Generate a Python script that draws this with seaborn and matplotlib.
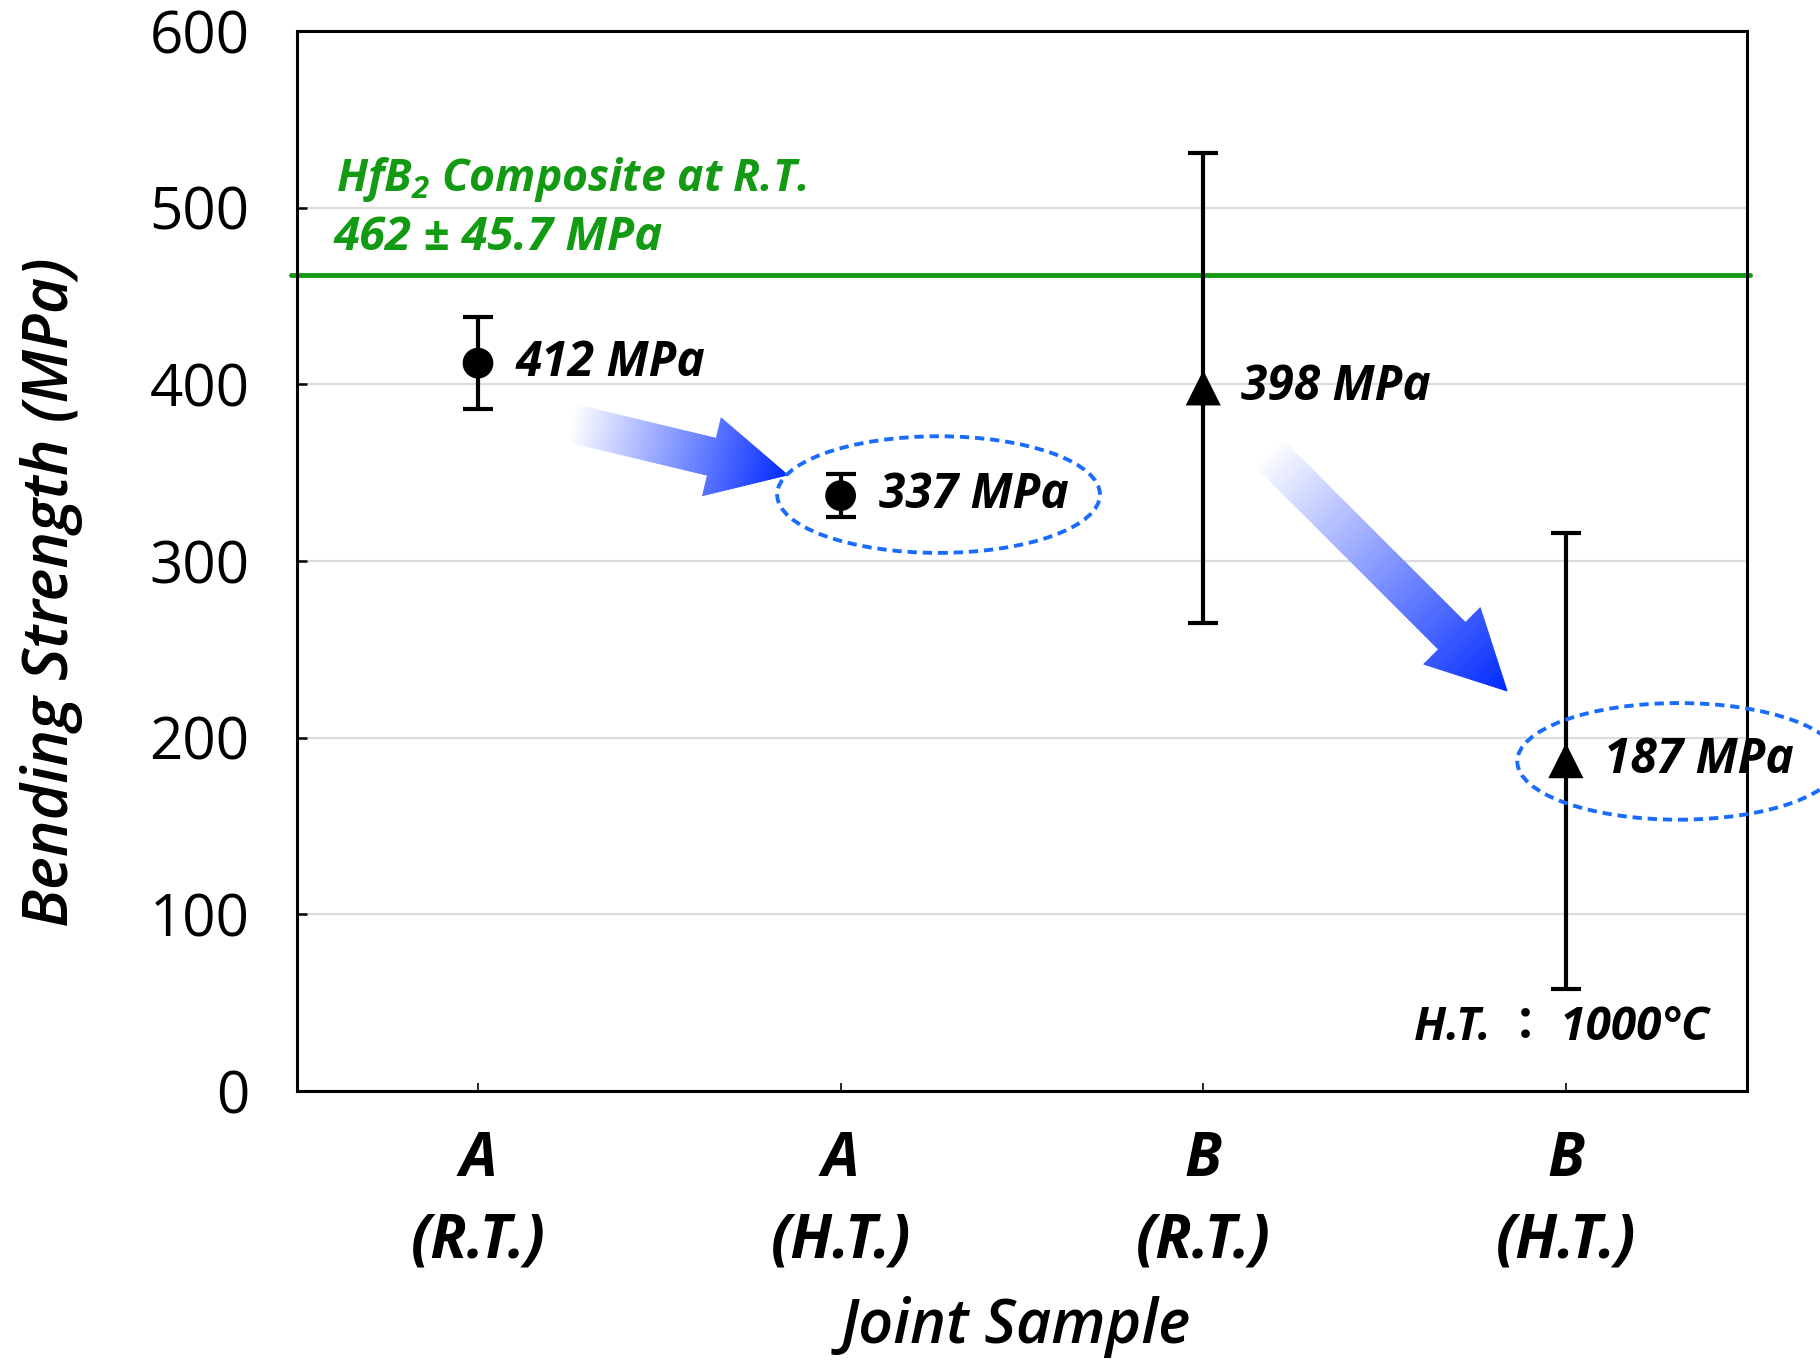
import numpy as np
import pandas as pd
import matplotlib
matplotlib.use("Agg")
import matplotlib.pyplot as plt
import seaborn as sns
from matplotlib.patches import Ellipse, Polygon
from matplotlib.transforms import IdentityTransform

# data
samples = ["A\n(R.T.)", "A\n(H.T.)", "B\n(R.T.)", "B\n(H.T.)"]
joint = ["A", "A", "B", "B"]
strength = [412, 337, 398, 187]
error = [26, 12, 133, 129]
composite_strength = 462
composite_label = r"HfB$_{2}$ Composite at R.T."
composite_value = "462 ± 45.7 MPa"
ht_note = "H.T. ： 1000°C"

GREEN = "#139a13"
BLUE = "#1a6cff"

sns.set_style("ticks")
plt.rcParams["font.family"] = ["Open Sans", "Noto Sans CJK JP", "DejaVu Sans"]
plt.rcParams["mathtext.fontset"] = "custom"
plt.rcParams["mathtext.rm"] = "Open Sans:italic:bold"
plt.rcParams["axes.linewidth"] = 2.2
for k in ["text.color", "axes.labelcolor", "xtick.color", "ytick.color", "axes.edgecolor"]:
    plt.rcParams[k] = "black"


def gradient_arrow(ax, tail, tip, shaft_hw=19, head_hw=40, head_len=78, n=90):
    # arrow drawn in pixels, faded from white at the tail to blue at the tip
    p0 = ax.transData.transform(tail)
    p1 = ax.transData.transform(tip)
    d = p1 - p0
    L = np.hypot(*d)
    u = d / L
    nv = np.array([-u[1], u[0]])
    t_head = (L - head_len) / L
    white = np.array([1.0, 1.0, 1.0])
    blue = np.array([0.0, 0.16, 1.0])

    def width(t):
        if t <= t_head:
            return shaft_hw
        return head_hw * (1 - t) / (1 - t_head)

    n1 = int(n * t_head)
    ts = np.linspace(0, t_head, n1 + 1)
    pieces = [(a, b, shaft_hw, shaft_hw) for a, b in zip(ts[:-1], ts[1:])]
    th = np.linspace(t_head, 1, n - n1 + 1)
    pieces += [(a, b, width(a + 1e-9), width(b)) for a, b in zip(th[:-1], th[1:])]
    for a, b, wa, wb in pieces:
        pa = p0 + d * a
        pb = p0 + d * b
        pts = [pa + nv * wa, pb + nv * wb, pb - nv * wb, pa - nv * wa]
        c = white * (1 - (a + b) / 2) + blue * (a + b) / 2
        ax.add_patch(Polygon(pts, closed=True, transform=IdentityTransform(),
                             facecolor=c, edgecolor=c, lw=0.6, zorder=2.5, clip_on=False))


fig = plt.figure(figsize=(18.2, 13.65), dpi=100)
ax = fig.add_axes([0.163, 0.2007, 0.797, 0.7766])

x = np.arange(len(samples)) + 0.5
df = pd.DataFrame({"x": x, "strength": strength, "error": error, "joint": joint})

ax.axhline(composite_strength, xmin=-0.004, xmax=1.002, color=GREEN, lw=3.5,
           zorder=2, clip_on=False)
ax.errorbar(df["x"], df["strength"], yerr=df["error"], fmt="none", ecolor="black",
            elinewidth=3, capsize=11, capthick=3, zorder=3)
sns.scatterplot(data=df, x="x", y="strength", style="joint", size="joint",
                markers={"A": "o", "B": "^"}, sizes={"A": 490, "B": 640},
                color="black", edgecolor="black", linewidth=0, legend=False,
                ax=ax, zorder=4)

ax.set_xlim(0, 4)
ax.set_ylim(0, 600)
ax.set_yticks(range(0, 601, 100))
ax.set_xticks(x, samples)
ax.yaxis.grid(True, color="#dcdcdc", lw=1.6)
ax.set_axisbelow(True)
for s in ax.spines.values():
    s.set_visible(True)
    s.set_color("black")

ax.tick_params(axis="y", direction="in", length=7, width=1.8, labelsize=42, pad=34)
ax.tick_params(axis="x", direction="in", length=6, width=1.2, labelsize=43, pad=28)
for lab in ax.get_xticklabels():
    lab.set_fontweight("bold")
    lab.set_fontstyle("italic")
    lab.set_linespacing(1.45)

ax.set_ylabel("Bending Strength (MPa)", fontsize=45, fontstyle="italic", fontweight="semibold")
ax.yaxis.set_label_coords(-0.169, 0.471)
ax.yaxis.label.set_va("center")
ax.set_xlabel("Joint Sample", fontsize=44, fontstyle="italic", fontweight="semibold")
ax.xaxis.set_label_coords(0.4955, -0.223)
ax.xaxis.label.set_va("center")

# value labels next to each point
for xi, v in zip(x, strength):
    ax.text(xi + 0.105, v, f"{v} MPa", fontsize=34.5, fontweight="bold", fontstyle="italic",
            ha="left", va="center", zorder=5)

ax.text(0.109, 516, composite_label, color=GREEN, fontsize=32, fontweight="bold",
        fontstyle="italic", ha="left", va="center")
ax.text(0.103, 483, composite_value, color=GREEN, fontsize=34, fontweight="bold",
        fontstyle="italic", ha="left", va="center")
ax.text(3.894, 36, ht_note, fontsize=33, fontweight="bold", fontstyle="italic",
        ha="right", va="center")

for cx, cy in [(1.770, 337.6), (3.811, 186.6)]:
    ax.add_patch(Ellipse((cx, cy), 0.89, 66, fill=False, edgecolor=BLUE, lw=2.8,
                         ls=(0, (2.4, 1.5)), zorder=4, clip_on=False))

gradient_arrow(ax, (0.758, 378), (1.354, 348.7))
gradient_arrow(ax, (2.677, 362), (3.338, 226.4))

fig.savefig("out.png", dpi=100)
